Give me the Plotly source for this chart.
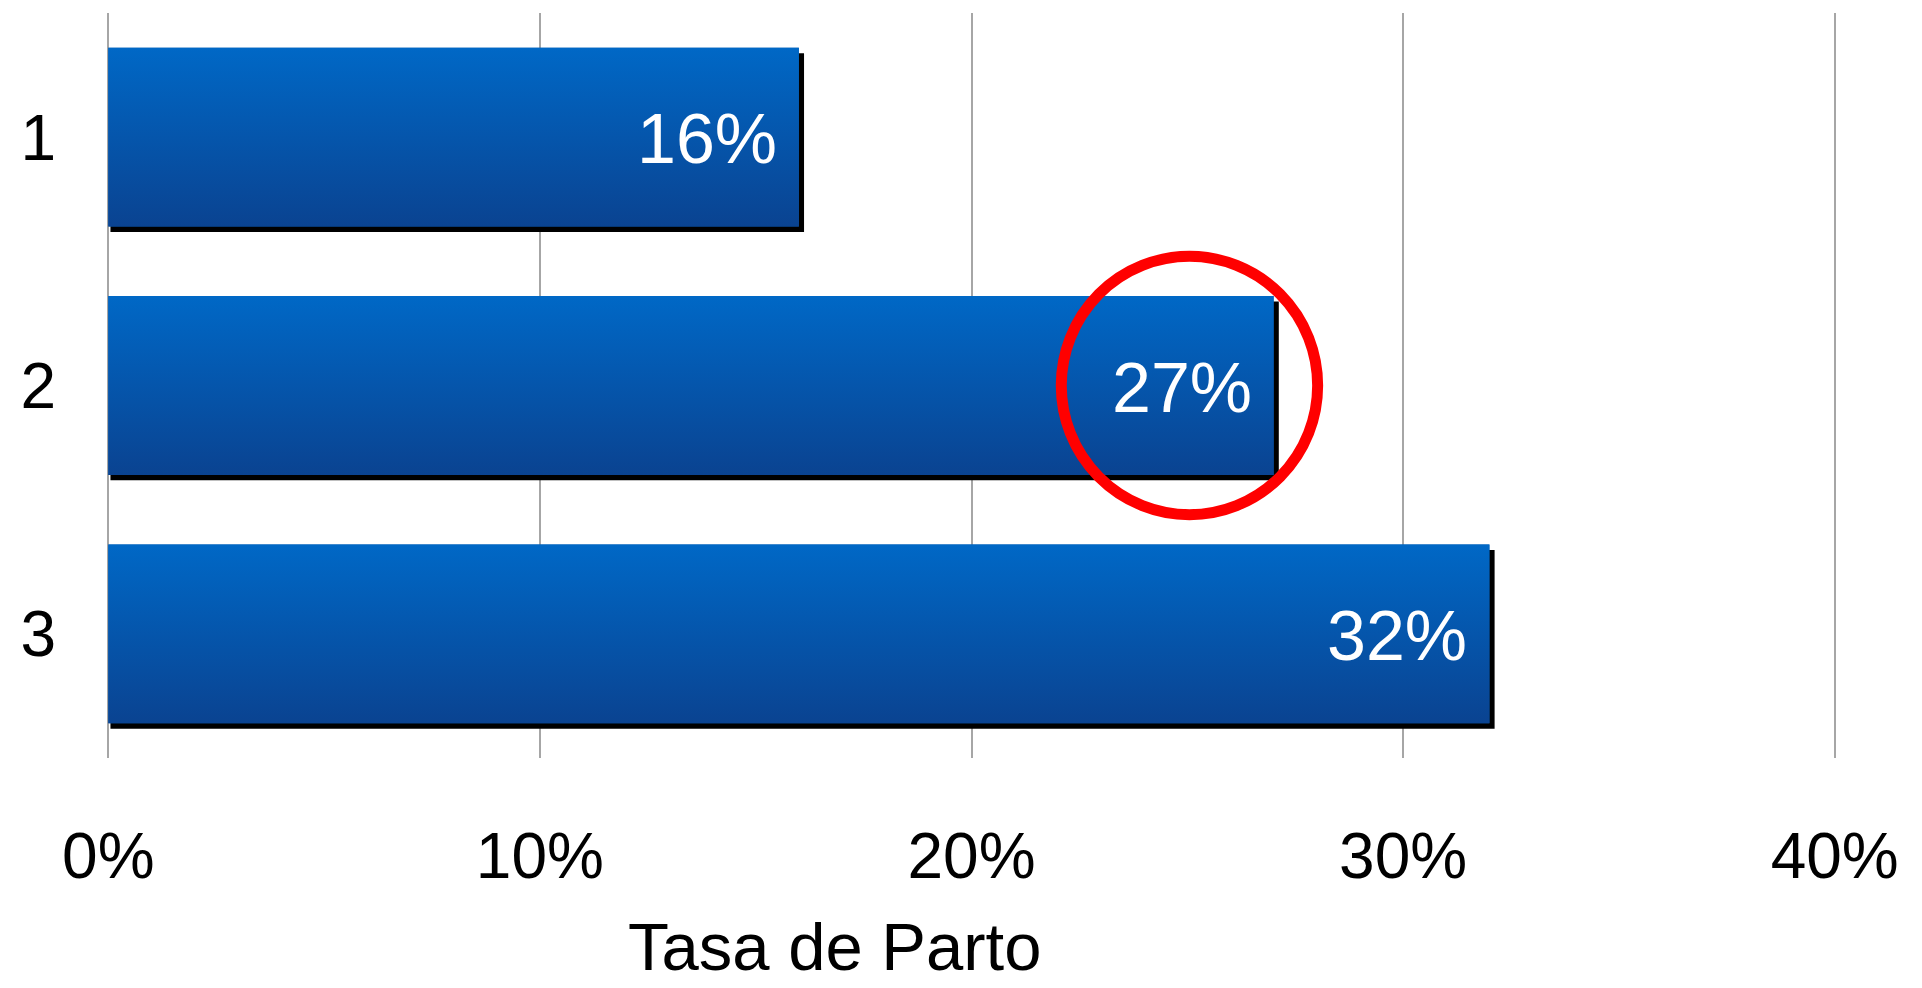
import plotly.graph_objects as go

# ---- data ----
categories = ["1", "2", "3"]
values = [16, 27, 32]            # Tasa de Parto (%)
labels = ["16%", "27%", "32%"]
x_ticks = [0, 10, 20, 30, 40]
x_ticktext = ["0%", "10%", "20%", "30%", "40%"]
axis_title = "Tasa de Parto"

FONT = "Liberation Sans, Arial, sans-serif"
BAR_W = 0.72
TOP_COLOR = "#0068C6"
BOTTOM_COLOR = "#0A4391"

pos = list(range(len(categories)))

fig = go.Figure()

# drop shadow (black, slightly offset right/down)
fig.add_trace(go.Bar(
    y=[p + 0.022 for p in pos], x=[v + 0.07 for v in values], base=0.05,
    orientation="h", width=BAR_W,
    marker=dict(color="#000000", line=dict(width=0)),
    hoverinfo="skip", showlegend=False,
))

# main bars
fig.add_trace(go.Bar(
    y=pos, x=values, orientation="h", width=BAR_W,
    marker=dict(color="#0558AC", line=dict(width=0)),
    showlegend=False,
))

# vertical gradient sheen on each bar (same extent as the bar)
for p, v in zip(pos, values):
    h = BAR_W / 2
    fig.add_trace(go.Scatter(
        x=[0, v, v, 0, 0], y=[p - h, p - h, p + h, p + h, p - h],
        mode="none", fill="toself",
        fillgradient=dict(type="vertical",
                          colorscale=[[0, BOTTOM_COLOR], [1, TOP_COLOR]]),
        hoverinfo="skip", showlegend=False,
    ))

# value labels inside the bars, right aligned
for p, v, t in zip(pos, values, labels):
    fig.add_annotation(
        x=v, y=p, xref="x", yref="y", text=t, showarrow=False,
        xanchor="right", yanchor="middle", xshift=-20, yshift=-2,
        font=dict(family=FONT, size=70, color="#ffffff"),
    )

# red highlight circle around the 27% label
fig.add_shape(
    type="circle", xref="x", yref="y",
    x0=25.05 - 2.97, x1=25.05 + 2.97, y0=1 - 0.52, y1=1 + 0.52,
    line=dict(color="#ff0000", width=11), layer="above",
)

# axis title
fig.add_annotation(
    x=0.421, y=-0.306, xref="paper", yref="paper", text=axis_title,
    showarrow=False, xanchor="center", yanchor="bottom",
    font=dict(family=FONT, size=67, color="#000000"),
)

fig.update_layout(
    width=1922, height=988,
    margin=dict(l=107, r=86, t=13, b=230),
    paper_bgcolor="white", plot_bgcolor="white",
    barmode="overlay",
    font=dict(family=FONT, color="#000000"),
    xaxis=dict(
        range=[-0.03, 40.03], tickvals=x_ticks, ticktext=x_ticktext,
        showgrid=True, gridcolor="#a6a6a6", gridwidth=1.5,
        zeroline=False, showline=False, ticks="",
        ticklabelstandoff=55,
        tickfont=dict(family=FONT, size=64, color="#000000"),
    ),
    yaxis=dict(
        range=[2.5, -0.5], autorange=False, tickvals=pos, ticktext=categories,
        showgrid=False, zeroline=False,
        showline=False, ticks="", ticklabelstandoff=50,
        tickfont=dict(family=FONT, size=64, color="#000000"),
    ),
)

fig.write_html(
    "out.html",
    config={"displayModeBar": False},
    post_script="document.body.style.margin='0';document.body.style.overflow='hidden';",
)
